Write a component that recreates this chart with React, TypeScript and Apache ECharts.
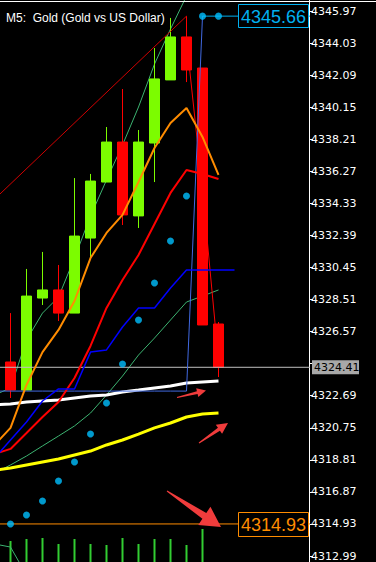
import React, { useEffect, useRef } from "react";
import * as echarts from "echarts";

// ---------- data ----------
const title = "M5:  Gold (Gold vs US Dollar)";
const candleIdx = [0, 1, 2, 3, 4, 5, 6, 7, 8, 9, 10, 11, 12, 13];
const open = [4324.73, 4323.03, 4328.6, 4329.09, 4327.69, 4332.23, 4335.62, 4338.04, 4333.57, 4337.98, 4341.8, 4344.4, 4342.52, 4327.03];
const close = [4323.03, 4328.72, 4329.09, 4327.69, 4332.35, 4335.68, 4338.04, 4333.63, 4338.04, 4341.86, 4344.4, 4342.4, 4326.97, 4324.41];
const low = [4322.55, 4323.03, 4328.18, 4327.21, 4327.69, 4331.08, 4335.62, 4333.02, 4332.84, 4335.62, 4341.8, 4341.67, 4326.97, 4323.82];
const high = [4327.69, 4330.36, 4331.39, 4330.6, 4335.86, 4336.11, 4338.95, 4341.25, 4338.77, 4343.73, 4345.55, 4345.66, 4342.52, 4327.15];

const lineIdx = [-1, 0, 1, 2, 3, 4, 5, 6, 7, 8, 9, 10, 11, 12, 13];
const maGreenFast = [4322.73, 4323.16, 4326.06, 4327.69, 4328.66, 4331.02, 4333.56, 4335.74, 4337.86, 4340.16, 4342.76, 4344.88, 4346.88, null, null];
const maGreenSlow = [4318.01, 4318.5, 4319.04, 4319.65, 4320.25, 4320.86, 4321.64, 4322.73, 4323.88, 4325.15, 4326.18, 4327.27, 4328.36, 4328.72, 4329.09];
const maOrange = [4319.71, 4320.74, 4323.34, 4325.33, 4326.67, 4328.42, 4331.02, 4332.54, 4333.63, 4335.62, 4337.68, 4339.19, 4340.1, 4338.35, 4336.05];
const maRed = [4319.16, 4319.47, 4320.43, 4321.4, 4322.31, 4323.76, 4325.7, 4328.0, 4329.69, 4331.2, 4333.08, 4334.96, 4336.35, 4336.11, 4335.8];
const maWhite = [4322.13, 4322.19, 4322.31, 4322.37, 4322.43, 4322.55, 4322.67, 4322.73, 4322.91, 4323.03, 4323.16, 4323.28, 4323.46, 4323.52, 4323.58];
const maYellow = [4318.19, 4318.31, 4318.5, 4318.68, 4318.86, 4319.1, 4319.34, 4319.71, 4320.01, 4320.37, 4320.74, 4321.04, 4321.4, 4321.58, 4321.64];

const blueStepIdx = [-1, 0, 1, 2, 3, 4, 5, 6, 7, 8, 9, 10, 11, 12, 13, 14];
const blueStep = [4318.92, 4320.01, 4321.1, 4322.37, 4323.1, 4323.1, 4325.33, 4325.46, 4326.85, 4328.0, 4328.0, 4329.21, 4330.3, 4330.3, 4330.3, 4330.3];

const sarIdx = [0, 1, 2, 3, 4, 5, 6, 7, 8, 9, 10, 11, 12, 13];
const sar = [4314.93, 4315.47, 4316.32, 4317.53, 4318.68, 4320.37, 4322.25, 4324.61, 4327.27, 4329.51, 4332.05, 4334.77, 4345.66, 4345.66];

const levelIdx = [-1, 0, 1, 2, 3, 4, 5, 6, 7, 8, 9, 10, 11, 12];
const levelLine = [4322.97, 4322.97, 4322.97, 4322.97, 4322.97, 4322.97, 4322.97, 4322.97, 4322.97, 4322.97, 4322.97, 4322.97, 4322.97, 4345.66];

const trendIdx = [-1, 11];
const trendLine = [4334.58, 4345.66];
const thinRedIdx = [11, 12, 13];
const thinRed = [4344.22, 4335.14, 4324.85];
const lowGreenIdx = [-1, 0, 1];
const lowGreen = [4313.72, 4313.53, 4311.84];

const volIdx = [0, 1, 2, 3, 4, 5, 6, 7, 8, 9, 10, 11, 12];
const volume = [21, 23, 24, 18, 23, 18, 17, 24, 18, 23, 23, 17, 33];

const highLevel = 4345.66;
const lowLevel = 4314.93;
const lastPrice = 4324.41;

const yTicks = [4345.97, 4344.03, 4342.09, 4340.15, 4338.21, 4336.27, 4334.33, 4332.39, 4330.45, 4328.51, 4326.57, 4324.63, 4322.69, 4320.75, 4318.81, 4316.87, 4314.93, 4312.99];
const yMin = 4312.627;
const yMax = 4346.636;
const xMin = -0.65625;
const xMax = 18.65625;

// ---------- helpers ----------
const pairs = (xs: number[], ys: (number | null)[]) => xs.map((x, i) => [x, ys[i]]);

function arrow(x1: number, y1: number, x2: number, y2: number, w0: number, w1: number, hl: number, hw: number) {
  const dx = x2 - x1, dy = y2 - y1, L = Math.hypot(dx, dy);
  const ux = dx / L, uy = dy / L, nx = -uy, ny = ux;
  const bx = x2 - ux * hl, by = y2 - uy * hl;
  return [
    [x1 + (nx * w0) / 2, y1 + (ny * w0) / 2],
    [bx + (nx * w1) / 2, by + (ny * w1) / 2],
    [bx + (nx * hw) / 2, by + (ny * hw) / 2],
    [x2, y2],
    [bx - (nx * hw) / 2, by - (ny * hw) / 2],
    [bx - (nx * w1) / 2, by - (ny * w1) / 2],
    [x1 - (nx * w0) / 2, y1 - (ny * w0) / 2],
  ];
}

const CYAN = "#00B0F0";
const ORANGE = "#FF8C00";

function lineSeries(name: string, data: any[], color: string, width: number, z = 3) {
  return {
    name,
    type: "line",
    data,
    xAxisIndex: 0,
    yAxisIndex: 0,
    symbol: "none",
    showSymbol: false,
    silent: true,
    z,
    lineStyle: { color, width },
    connectNulls: false,
  };
}

export default function App() {
  const ref = useRef<HTMLDivElement>(null);
  useEffect(() => {
    if (!ref.current) return;
    const chart = echarts.init(ref.current, null, { renderer: "svg" });
    const candleData = candleIdx.map((k, i) => [k, open[i], close[i], low[i], high[i]]);
    // the axis label hidden behind the current-price tag is not drawn
    const labelTicks = yTicks.filter((v) => Math.abs(v - lastPrice) > 0.5);
    const option: any = {
      animation: false,
      backgroundColor: "#000",
      grid: [
        { left: 0, top: 0, width: 309, height: 562 },
        { left: 0, top: 500, width: 309, height: 62 },
      ],
      xAxis: [
        { type: "value", gridIndex: 0, min: xMin, max: xMax, show: false },
        { type: "value", gridIndex: 1, min: xMin, max: xMax, show: false },
      ],
      yAxis: [
        {
          type: "value",
          gridIndex: 0,
          position: "right",
          min: yMin,
          max: yMax,
          splitLine: { show: false },
          axisLine: { show: true, onZero: false, lineStyle: { color: "#fff", width: 1 } },
          axisTick: { show: true, length: 4, inside: false, customValues: yTicks, lineStyle: { color: "#fff" } },
          axisLabel: {
            show: true,
            customValues: labelTicks,
            color: "#fff",
            fontFamily: "DejaVu Sans",
            fontSize: 11,
            margin: 2,
            formatter: (v: number) => v.toFixed(2),
          },
        },
        { type: "value", gridIndex: 1, min: 0, max: 62, show: false },
      ],
      series: [
        lineSeries("greenSlow", pairs(lineIdx, maGreenSlow), "#3CB371", 1, 1),
        lineSeries("greenFast", pairs(lineIdx, maGreenFast), "#3CB371", 1, 1),
        lineSeries("lowGreen", pairs(lowGreenIdx, lowGreen), "#3CB371", 1, 1),
        {
          type: "bar",
          xAxisIndex: 1,
          yAxisIndex: 1,
          data: pairs(volIdx, volume),
          barWidth: 2,
          itemStyle: { color: "#32CD32" },
          silent: true,
          z: 1,
        },
        {
          type: "candlestick",
          xAxisIndex: 0,
          yAxisIndex: 0,
          data: candleData,
          barWidth: 10,
          silent: true,
          z: 2,
          itemStyle: {
            color: "#7CFC00",
            color0: "#FF0000",
            borderColor: "#7CFC00",
            borderColor0: "#FF0000",
            borderWidth: 1,
          },
        },
        lineSeries("trend", pairs(trendIdx, trendLine), "#D00000", 1),
        lineSeries("thinRed", pairs(thinRedIdx, thinRed), "#FF0000", 1),
        lineSeries("current", [[xMin - 1, lastPrice], [xMax + 1, lastPrice]], "#C0C0C0", 1),
        lineSeries("lowLevel", [[xMin - 1, lowLevel], [xMax + 1, lowLevel]], ORANGE, 1),
        lineSeries("yellow", pairs(lineIdx, maYellow), "#FFFF00", 3),
        lineSeries("white", pairs(lineIdx, maWhite), "#FFFFFF", 3),
        lineSeries("levelBlue", pairs(levelIdx, levelLine), "#4169E1", 1),
        lineSeries("redMA", pairs(lineIdx, maRed), "#FF0000", 2),
        lineSeries("orangeMA", pairs(lineIdx, maOrange), ORANGE, 2),
        lineSeries("blueStep", pairs(blueStepIdx, blueStep), "#0000FF", 1.5),
        lineSeries("cyanLevel", [[12, highLevel], [xMax + 1, highLevel]], CYAN, 1),
        {
          type: "scatter",
          xAxisIndex: 0,
          yAxisIndex: 0,
          data: pairs(sarIdx, sar),
          symbolSize: 7,
          itemStyle: { color: "#00BFFF" },
          silent: true,
          z: 4,
        },
      ],
    };
    chart.setOption(option);

    const yHigh = chart.convertToPixel({ yAxisIndex: 0 }, highLevel) as number;
    const yLow = chart.convertToPixel({ yAxisIndex: 0 }, lowLevel) as number;
    const yLast = chart.convertToPixel({ yAxisIndex: 0 }, lastPrice) as number;
    const arrowColor = "#F03C3C";
    const Z = 100;
    chart.setOption({
      graphic: [
        { type: "line", shape: { x1: 0, y1: 1.5, x2: 376, y2: 1.5 }, style: { stroke: "#fff", lineWidth: 1 }, z: Z },
        {
          type: "text",
          x: 6,
          y: 18,
          style: { text: title, fill: "#fff", font: '12px "Liberation Sans"', verticalAlign: "middle", align: "left" },
          z: Z,
        },
        { type: "rect", shape: { x: 238.5, y: Math.round(yHigh) - 11.5, width: 70, height: 23 }, style: { fill: "#000", stroke: CYAN, lineWidth: 1 }, z: Z },
        {
          type: "text",
          x: 273.5,
          y: Math.round(yHigh) + 0.5,
          style: { text: highLevel.toFixed(2), fill: CYAN, font: '18px "Liberation Sans"', align: "center", verticalAlign: "middle" },
          z: Z + 1,
        },
        { type: "rect", shape: { x: 238.5, y: Math.round(yLow) - 11.5, width: 70, height: 24 }, style: { fill: "#000", stroke: ORANGE, lineWidth: 1 }, z: Z },
        {
          type: "text",
          x: 273.5,
          y: Math.round(yLow) + 1,
          style: { text: lowLevel.toFixed(2), fill: ORANGE, font: '18px "Liberation Sans"', align: "center", verticalAlign: "middle" },
          z: Z + 1,
        },
        { type: "rect", shape: { x: 312, y: yLast - 7, width: 47, height: 14 }, style: { fill: "#A8A8A8" }, z: Z },
        {
          type: "text",
          x: 314,
          y: yLast,
          style: { text: lastPrice.toFixed(2), fill: "#000", font: '11px "DejaVu Sans"', align: "left", verticalAlign: "middle" },
          z: Z + 1,
        },
        { type: "polygon", shape: { points: arrow(177, 397.5, 206, 390.5, 1, 3, 9, 9) }, style: { fill: arrowColor }, z: Z },
        { type: "polygon", shape: { points: arrow(199, 443, 228, 423, 1, 3.5, 11, 11) }, style: { fill: arrowColor }, z: Z },
        { type: "polygon", shape: { points: arrow(167, 491, 221, 527, 1, 7, 20, 22) }, style: { fill: arrowColor }, z: Z },
      ],
    });

    return () => chart.dispose();
  }, []);

  return (
    <div
      ref={ref}
      style={{ position: "fixed", left: 0, top: 0, width: 376, height: 562, background: "#000" }}
    />
  );
}
